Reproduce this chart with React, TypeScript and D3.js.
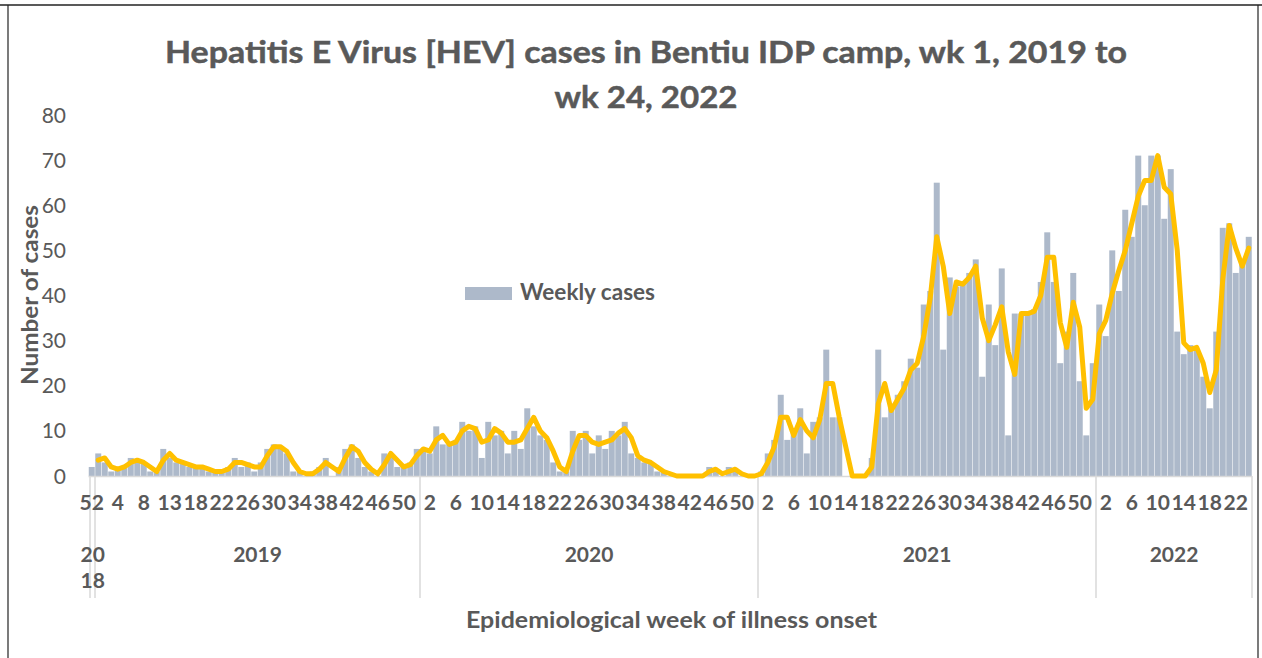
import React from 'react';
import * as d3 from 'd3';

// ---------- DATA ----------
const weeks2018 = [52];
const cases2018 = [2];

const weeks2019 = [1, 2, 3, 4, 5, 6, 7, 8, 9, 10, 11, 13, 14, 15, 16, 18, 19, 20, 21, 22, 23, 24, 25, 26, 27, 28, 29, 30, 31, 32, 33, 34, 35, 36, 37, 38, 39, 40, 41, 42, 43, 44, 45, 46, 47, 48, 49, 50, 51, 52];
const cases2019 = [5, 3, 1, 2, 2, 4, 3, 3, 1, 1, 6, 4, 3, 3, 2, 2, 2, 1, 1, 1, 2, 4, 2, 3, 1, 3, 6, 7, 6, 5, 1, 1, 0, 1, 2, 4, 0, 2, 6, 7, 4, 2, 1, 0, 5, 5, 2, 2, 3, 6];

const weeks2020 = [1, 2, 3, 4, 5, 6, 7, 8, 9, 10, 11, 12, 13, 14, 15, 16, 17, 18, 19, 20, 21, 22, 23, 24, 25, 26, 27, 28, 29, 30, 31, 32, 33, 34, 35, 36, 37, 38, 39, 40, 41, 42, 43, 44, 45, 46, 47, 48, 49, 50, 51, 52];
const cases2020 = [6, 5, 11, 7, 7, 8, 12, 10, 11, 4, 12, 9, 10, 5, 10, 6, 15, 11, 9, 8, 3, 1, 1, 10, 8, 10, 5, 9, 6, 10, 9, 12, 5, 4, 3, 3, 1, 1, 0, 0, 0, 0, 0, 0, 2, 1, 0, 2, 1, 0, 0, 0];

const weeks2021 = [1, 2, 3, 4, 5, 6, 7, 8, 9, 10, 11, 12, 13, 14, 15, 16, 17, 18, 19, 20, 21, 22, 23, 24, 25, 26, 27, 28, 29, 30, 31, 32, 33, 34, 35, 36, 37, 38, 39, 40, 41, 42, 43, 44, 45, 46, 47, 48, 49, 50, 51, 52];
const cases2021 = [1, 5, 8, 18, 8, 10, 15, 5, 12, 13, 28, 13, 13, 0, 0, 0, 0, 4, 28, 13, 16, 18, 21, 26, 24, 38, 41, 65, 28, 44, 42, 43, 45, 48, 22, 38, 29, 46, 9, 36, 36, 36, 37, 43, 54, 43, 25, 32, 45, 21, 9, 25];

const weeks2022 = [1, 2, 3, 4, 5, 6, 7, 8, 9, 10, 11, 12, 13, 14, 15, 16, 17, 18, 19, 20, 21, 22, 23, 24];
const cases2022 = [38, 31, 50, 41, 59, 53, 71, 60, 71, 71, 57, 68, 32, 27, 29, 28, 22, 15, 32, 55, 56, 45, 48, 53];

const yTicks = [0, 10, 20, 30, 40, 50, 60, 70, 80];

const titleLines = ['Hepatitis E Virus [HEV] cases in Bentiu IDP camp, wk 1, 2019 to', 'wk 24, 2022'];
const yTitle = 'Number of cases';
const xTitle = 'Epidemiological week of illness onset';
const legendLabel = 'Weekly cases';

// ---------- STYLE ----------
const W = 1262;
const H = 658;
const FONT = "Lato, 'Open Sans', 'Liberation Sans', sans-serif";
const TEXT = '#595959';
const BAR = '#adb9ca';
const LINE = '#ffc000';
const AXIS = '#d9d9d9';

const plot = { left: 88.5, right: 1252, top: 115, bottom: 476 };
const titleWidths = [962, 183];

export default function App() {
  const groups = [
    { year: '2018', weeks: weeks2018, cases: cases2018 },
    { year: '2019', weeks: weeks2019, cases: cases2019 },
    { year: '2020', weeks: weeks2020, cases: cases2020 },
    { year: '2021', weeks: weeks2021, cases: cases2021 },
    { year: '2022', weeks: weeks2022, cases: cases2022 },
  ];
  const rows = groups.flatMap((g) =>
    g.weeks.map((w, k) => ({ year: g.year, week: w, value: g.cases[k], key: `${g.year}-${w}` }))
  );

  const x = d3.scaleBand<string>().domain(rows.map((r) => r.key)).range([plot.left, plot.right]).padding(0);
  const bw = x.bandwidth();
  const y = d3.scaleLinear().domain([0, 80]).range([plot.bottom, plot.top]);

  // 2-period moving average trendline
  const ma = rows.slice(1).map((r, i) => ({ key: r.key, v: (rows[i].value + r.value) / 2 }));
  const lineGen = d3
    .line<{ key: string; v: number }>()
    .x((d) => (x(d.key) as number) + bw / 2)
    .y((d) => y(d.v));

  const groupBounds = groups.map((g) => {
    const first = x(`${g.year}-${g.weeks[0]}`) as number;
    const last = (x(`${g.year}-${g.weeks[g.weeks.length - 1]}`) as number) + bw;
    return { year: g.year, x0: first, x1: last };
  });
  const sepXs = [groupBounds[0].x0 + 1.5, ...groupBounds.map((b) => b.x1)];

  return (
    <svg
      width={W}
      height={H}
      style={{ position: 'absolute', left: 0, top: 0, background: '#fff' }}
      fontFamily={FONT}
    >
      <rect x={0} y={0} width={W} height={H} fill="#fff" />
      {/* frame */}
      <line x1={0} y1={5} x2={W} y2={5} stroke="#222" strokeWidth={1.5} />
      <line x1={8} y1={5} x2={8} y2={H} stroke="#222" strokeWidth={1.2} />
      <line x1={1258} y1={5} x2={1258} y2={H} stroke="#222" strokeWidth={1.2} />

      {/* title */}
      {titleLines.map((t, i) => (
        <text
          key={i}
          x={646}
          y={63 + i * 45}
          textAnchor="middle"
          fontSize={31}
          fontWeight="bold"
          fill={TEXT}
          stroke={TEXT}
          strokeWidth={0.5}
          textLength={titleWidths[i]}
          lengthAdjust="spacingAndGlyphs"
        >
          {t}
        </text>
      ))}

      {/* y tick labels */}
      {yTicks.map((t) => (
        <text key={t} x={66} y={y(t)} dy="0.36em" textAnchor="end" fontSize={21} fill={TEXT}>
          {t}
        </text>
      ))}

      {/* bars */}
      {rows.map((r) => (
        <rect
          key={r.key}
          x={(x(r.key) as number) + bw * 0.04}
          y={y(r.value)}
          width={bw * 0.92}
          height={plot.bottom - y(r.value)}
          fill={BAR}
        />
      ))}

      {/* axis line */}
      <line x1={plot.left} y1={plot.bottom + 0.5} x2={plot.right} y2={plot.bottom + 0.5} stroke={AXIS} strokeWidth={1.5} />
      {sepXs.map((sx, i) => (
        <line key={i} x1={sx} y1={plot.bottom} x2={sx} y2={598} stroke={AXIS} strokeWidth={1.5} />
      ))}

      {/* moving average line */}
      <path
        d={lineGen(ma) || ''}
        fill="none"
        stroke={LINE}
        strokeWidth={5}
        strokeLinejoin="round"
        strokeLinecap="round"
      />

      {/* x tick labels (every 4th week) */}
      {rows.map((r, i) =>
        i % 4 === 0 ? (
          <text
            key={r.key}
            x={(x(r.key) as number) + bw / 2}
            y={510}
            textAnchor="middle"
            fontSize={21}
            fontWeight="bold"
            fill={TEXT}
          >
            {r.week}
          </text>
        ) : null
      )}

      {/* year labels */}
      {groupBounds.map((b) =>
        b.year === '2018' ? (
          <g key={b.year}>
            <text x={(b.x0 + b.x1) / 2 + 1} y={562} textAnchor="middle" fontSize={21} fontWeight="bold" fill={TEXT}>
              {b.year.slice(0, 2)}
            </text>
            <text x={(b.x0 + b.x1) / 2 + 1} y={588} textAnchor="middle" fontSize={21} fontWeight="bold" fill={TEXT}>
              {b.year.slice(2)}
            </text>
          </g>
        ) : (
          <text key={b.year} x={(b.x0 + b.x1) / 2} y={562} textAnchor="middle" fontSize={21} fontWeight="bold" fill={TEXT}>
            {b.year}
          </text>
        )
      )}

      {/* axis titles */}
      <text
        x={671.5}
        y={628}
        textAnchor="middle"
        fontSize={23}
        fontWeight="bold"
        fill={TEXT}
        textLength={411}
        lengthAdjust="spacingAndGlyphs"
      >
        {xTitle}
      </text>
      <text
        transform={`translate(38,295) rotate(-90)`}
        textAnchor="middle"
        fontSize={23}
        fontWeight="bold"
        fill={TEXT}
        textLength={180}
        lengthAdjust="spacingAndGlyphs"
      >
        {yTitle}
      </text>

      {/* legend */}
      <rect x={465} y={287} width={47} height={13} fill={BAR} />
      <text x={520} y={300} fontSize={22} fontWeight="bold" fill={TEXT} textLength={135} lengthAdjust="spacingAndGlyphs">
        {legendLabel}
      </text>
    </svg>
  );
}
